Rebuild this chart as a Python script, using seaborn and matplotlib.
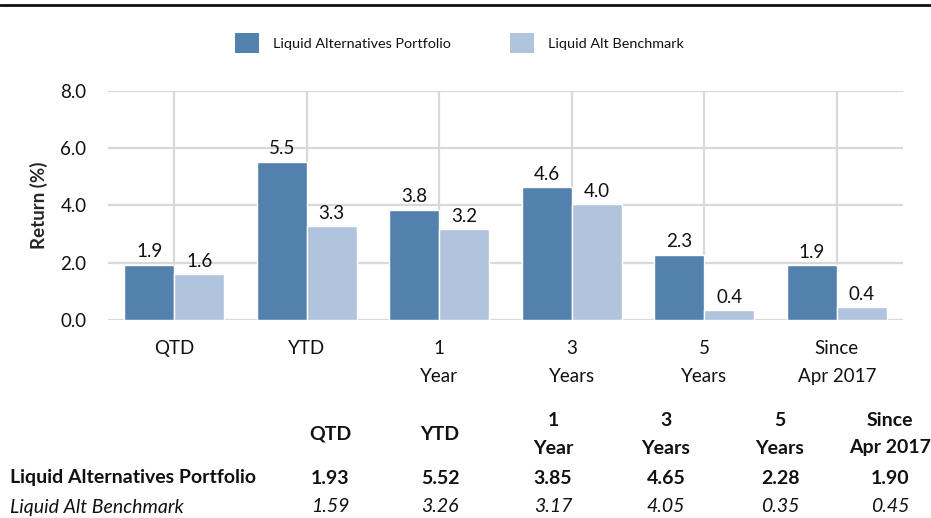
import matplotlib
matplotlib.use("Agg")
import matplotlib.pyplot as plt
from matplotlib.lines import Line2D
from matplotlib.patches import Patch
import pandas as pd
import seaborn as sns

# Trailing returns (%)
periods = ["QTD", "YTD", "1\nYear", "3\nYears", "5\nYears", "Since\nApr 2017"]
portfolio = [1.93, 5.52, 3.848, 4.646, 2.28, 1.90]
benchmark = [1.59, 3.26, 3.17, 4.048, 0.352, 0.447]
series_names = ["Liquid Alternatives Portfolio", "Liquid Alt Benchmark"]
y_ticks = [0.0, 2.0, 4.0, 6.0, 8.0]

DARK = "#5381ad"
LIGHT = "#b0c4de"
GRID = "#d9d9d9"
INK = "#111111"

sns.set_style("white")
plt.rcParams["font.family"] = ["Lato", "DejaVu Sans"]
plt.rcParams["text.color"] = INK

W, H = 931, 518
fig = plt.figure(figsize=(W / 100, H / 100), dpi=100)


def fx(px):
    return px / W


def fy(py):
    return 1 - py / H


ax = fig.add_axes([fx(108), fy(320), fx(903) - fx(108), fy(90.5) - fy(320)])

df = pd.DataFrame({
    "period": periods * 2,
    "series": [series_names[0]] * len(periods) + [series_names[1]] * len(periods),
    "value": portfolio + benchmark,
})

sns.barplot(data=df, x="period", y="value", hue="series",
            palette=[DARK, LIGHT], saturation=1, width=0.755,
            legend=False, ax=ax)

for cont in ax.containers:
    vals = [b.get_height() for b in cont]
    ax.bar_label(cont, labels=[f"{v:.1f}" for v in vals], padding=3,
                 fontsize=13.5, color=INK)

ax.set_xlim(-0.5, len(periods) - 0.5)
ax.set_ylim(0, 8)
ax.set_yticks(y_ticks)
ax.set_yticklabels([f"{t:.1f}" for t in y_ticks], fontsize=13.5)
ax.set_xticks(range(len(periods)))
ax.set_xticklabels(periods, fontsize=13.5, linespacing=1.75)
ax.set_xlabel("")
ax.set_ylabel("Return (%)", fontsize=13.5, fontweight="bold")
ax.yaxis.set_label_coords(-0.076, 0.5)

ax.grid(True, color=GRID, linewidth=1.6)
ax.set_axisbelow(True)
for s in ax.spines.values():
    s.set_visible(False)
ax.tick_params(axis="x", length=8.5, width=1.6, color=GRID, pad=6,
               labelcolor=INK)
ax.tick_params(axis="y", length=7.5, width=1.6, color=GRID, pad=8,
               labelcolor=INK)

# Legend across the top
handles = [Patch(facecolor=DARK, edgecolor="none"),
           Patch(facecolor=LIGHT, edgecolor="none")]
fig.legend(handles, series_names, loc="center",
           bbox_to_anchor=(fx(459.5), fy(43)), ncol=2, frameon=False,
           fontsize=10.4, handlelength=1.67, handleheight=1.67,
           handletextpad=0.95, columnspacing=4.1, borderpad=0)

# Rule along the top edge
fig.add_artist(Line2D([0, 1], [fy(4.5), fy(4.5)], transform=fig.transFigure,
                      color=INK, linewidth=2))

# Summary table below the chart
col_x = [330, 440, 553, 666, 780, 890]
for x, head in zip(col_x, periods):
    lines = head.split("\n")
    ys = [434] if len(lines) == 1 else [421, 448]
    for line, y in zip(lines, ys):
        fig.text(fx(x), fy(y), line, ha="center", va="center",
                 fontsize=14, fontweight="bold")
fig.text(fx(10), fy(478), series_names[0], ha="left", va="center",
         fontsize=14, fontweight="bold")
fig.text(fx(10), fy(507), series_names[1], ha="left", va="center",
         fontsize=14, fontstyle="italic")
for x, p, b in zip(col_x, portfolio, benchmark):
    fig.text(fx(x), fy(478), f"{p:.2f}", ha="center", va="center",
             fontsize=14, fontweight="bold")
    fig.text(fx(x), fy(507), f"{b:.2f}", ha="center", va="center",
             fontsize=14, fontstyle="italic")

fig.savefig("out.png", dpi=100)
